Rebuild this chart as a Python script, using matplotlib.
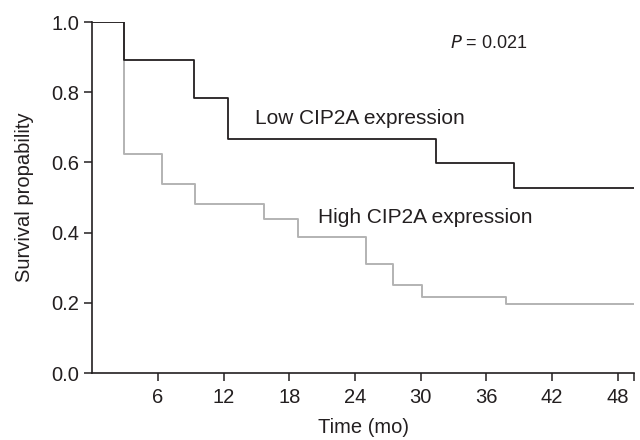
import matplotlib
matplotlib.use("Agg")
import matplotlib.pyplot as plt

plt.rcParams['font.family'] = ['Liberation Sans', 'DejaVu Sans']

# Kaplan-Meier steps (months, survival)
low_time = [0, 2.9, 9.3, 12.4, 31.4, 38.5, 49.5]
low_surv = [1.0, 0.892, 0.783, 0.667, 0.599, 0.528, 0.528]
high_time = [0, 2.9, 6.4, 9.4, 15.7, 18.8, 25.0, 27.5, 30.1, 37.8, 49.5]
high_surv = [1.0, 0.623, 0.539, 0.481, 0.439, 0.388, 0.311, 0.25, 0.217, 0.197, 0.197]

xticks = [6, 12, 18, 24, 30, 36, 42, 48]
yticks = [0.0, 0.2, 0.4, 0.6, 0.8, 1.0]

dark = '#231f20'
gray = '#b3b3b3'

fig = plt.figure(figsize=(6.4, 4.4), dpi=100)
ax = fig.add_axes([0.144, 0.152, 0.847, 0.798])

ax.step(high_time, high_surv, where='post', color=gray, lw=1.4)
ax.step(low_time, low_surv, where='post', color=dark, lw=1.3)

ax.set_xlim(0, 49.5)
ax.set_ylim(0, 1.0)
ax.set_xticks(xticks)
ax.set_xticks([49.5], minor=True)
ax.set_yticks(yticks)
ax.set_yticklabels(['%.1f' % v for v in yticks])

for s in ['top', 'right']:
    ax.spines[s].set_visible(False)
for s in ['left', 'bottom']:
    ax.spines[s].set_color(dark)
    ax.spines[s].set_linewidth(1.2)
ax.tick_params(axis='both', which='both', direction='out', length=5.5, width=1.1,
               color=dark, labelcolor=dark, labelsize=14.5)
ax.tick_params(axis='x', pad=5)
ax.tick_params(axis='y', pad=4)

ax.set_xlabel('Time (mo)', fontsize=14.5, color=dark, labelpad=8)
ax.set_ylabel('Survival propability', fontsize=14.5, color=dark, labelpad=12)

ax.text(14.86, 0.709, 'Low CIP2A expression', fontsize=15, color=dark, va='baseline')
ax.text(20.6, 0.427, 'High CIP2A expression', fontsize=15, color=dark, va='baseline')
ax.text(32.7, 0.927, r'$\it{P}$ = 0.021', fontsize=13, color=dark, va='baseline')

fig.savefig('out.png', dpi=100)
